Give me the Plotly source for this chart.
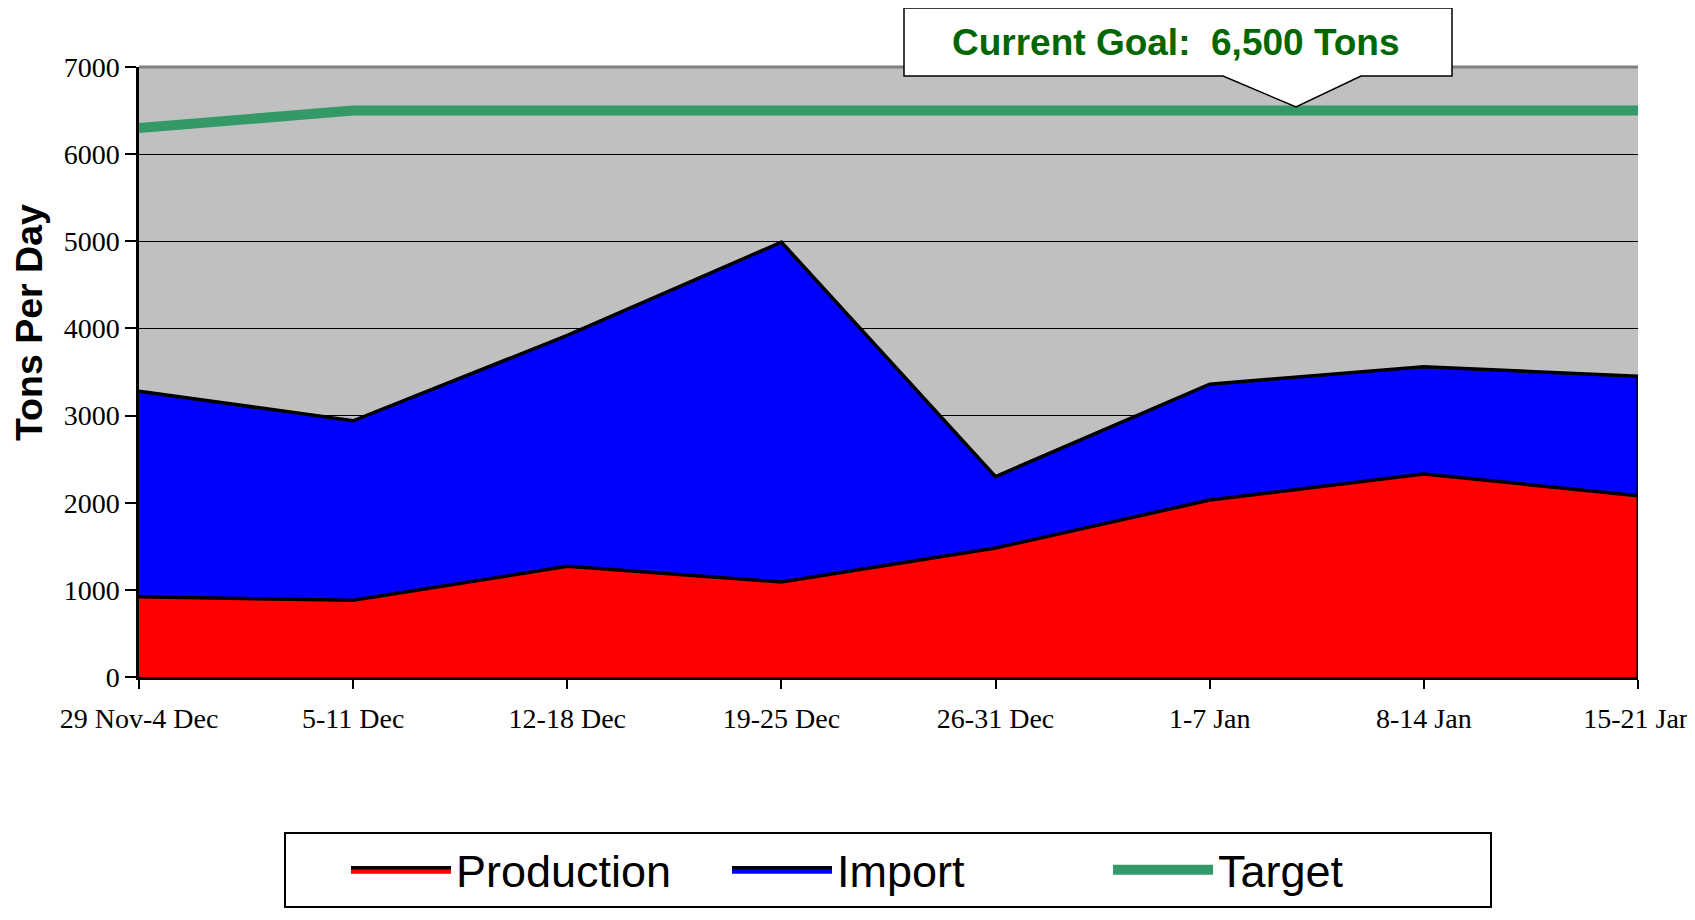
import plotly.graph_objects as go

categories = ["29 Nov-4 Dec", "5-11 Dec", "12-18 Dec", "19-25 Dec",
              "26-31 Dec", "1-7 Jan", "8-14 Jan", "15-21 Jan"]
production = [920, 880, 1270, 1090, 1480, 2030, 2330, 2080]
imports = [2360, 2060, 2650, 3900, 820, 1330, 1230, 1370]
target = [6300, 6500, 6500, 6500, 6500, 6500, 6500, 6500]
y_ticks = [0, 1000, 2000, 3000, 4000, 5000, 6000, 7000]

# the page body adds an 8px margin, so the figure is 8px smaller
OFF = 8
W, H = 1695 - OFF, 920 - OFF
L, R, T, B = 139 - OFF, 57, 67 - OFF, 243
pw, ph = W - L - R, H - T - B


def px(x):  # page pixel -> paper
    return (x - OFF - L) / pw


def py(y):
    return (H - B - (y - OFF)) / ph


fig = go.Figure()
fig.add_trace(go.Scatter(
    x=categories, y=production, name="Production", stackgroup="s",
    mode="lines", line=dict(color="black", width=3.5),
    fillcolor="#FF0000"))
fig.add_trace(go.Scatter(
    x=categories, y=imports, name="Import", stackgroup="s",
    mode="lines", line=dict(color="black", width=3.5),
    fillcolor="#0000FF"))
fig.add_trace(go.Scatter(
    x=categories, y=target, name="Target", mode="lines",
    line=dict(color="#339966", width=10)))
# right edge of stacked area
fig.add_trace(go.Scatter(
    x=[categories[-1], categories[-1]],
    y=[0, production[-1] + imports[-1]],
    mode="lines", line=dict(color="black", width=3),
    showlegend=False, hoverinfo="skip"))

serif = "Liberation Serif, Times New Roman, serif"
sans = "Liberation Sans, Arial, sans-serif"

fig.update_layout(
    width=W, height=H,
    margin=dict(l=L, r=R, t=T, b=B, pad=0, autoexpand=False),
    paper_bgcolor="white", plot_bgcolor="#C0C0C0",
    xaxis=dict(
        type="category", range=[0, len(categories) - 1],
        showgrid=False, zeroline=False, automargin=False,
        showline=True, linecolor="black", linewidth=3,
        ticks="outside", ticklen=9, tickwidth=1.5, tickcolor="black",
        tickfont=dict(family=serif, size=28, color="black"),
        ticklabelstandoff=5,
    ),
    yaxis=dict(
        range=[0, 7000], tickvals=y_ticks, automargin=False,
        showgrid=True, gridcolor="black", gridwidth=1.3,
        zeroline=False,
        showline=True, linecolor="black", linewidth=2.5,
        ticks="outside", ticklen=11, tickwidth=1.5, tickcolor="black",
        tickfont=dict(family=serif, size=28, color="black"),
    ),
    showlegend=True,
    legend=dict(
        orientation="h", x=px(284), xanchor="left", y=py(832), yanchor="top",
        bordercolor="black", borderwidth=2, bgcolor="white",
        font=dict(family=sans, size=45, color="black"),
        title=dict(text="\u00a0\u00a0\u00a0\u00a0", side="left",
                   font=dict(family=sans, size=45)),
        itemwidth=100, entrywidth=266, entrywidthmode="pixels",
        traceorder="normal",
    ),
    shapes=[
        dict(type="line", xref="paper", yref="paper", x0=0, x1=1, y0=1, y1=1,
             line=dict(color="#808080", width=3), layer="above"),
        dict(type="path", xref="paper", yref="paper",
             path=(f"M {px(904)},{py(8)} L {px(1452)},{py(8)} "
                   f"L {px(1452)},{py(76)} L {px(1361)},{py(76)} "
                   f"L {px(1296)},{py(107)} L {px(1223)},{py(76)} "
                   f"L {px(904)},{py(76)} Z"),
             fillcolor="white", line=dict(color="black", width=1.5),
             layer="above"),
    ],
    annotations=[
        dict(text="<b>Current Goal:  6,500 Tons</b>", xref="paper", yref="paper",
             x=px(1176), y=py(42), xanchor="center", yanchor="middle",
             showarrow=False,
             font=dict(family=sans, size=37, color="#006600")),
        dict(text="<b>Tons Per Day</b>", xref="paper", yref="paper",
             x=px(29), y=py(323), xanchor="center", yanchor="middle",
             showarrow=False, textangle=-90,
             font=dict(family=sans, size=37.5, color="black")),
    ],
)

fig.write_html("out.html")
